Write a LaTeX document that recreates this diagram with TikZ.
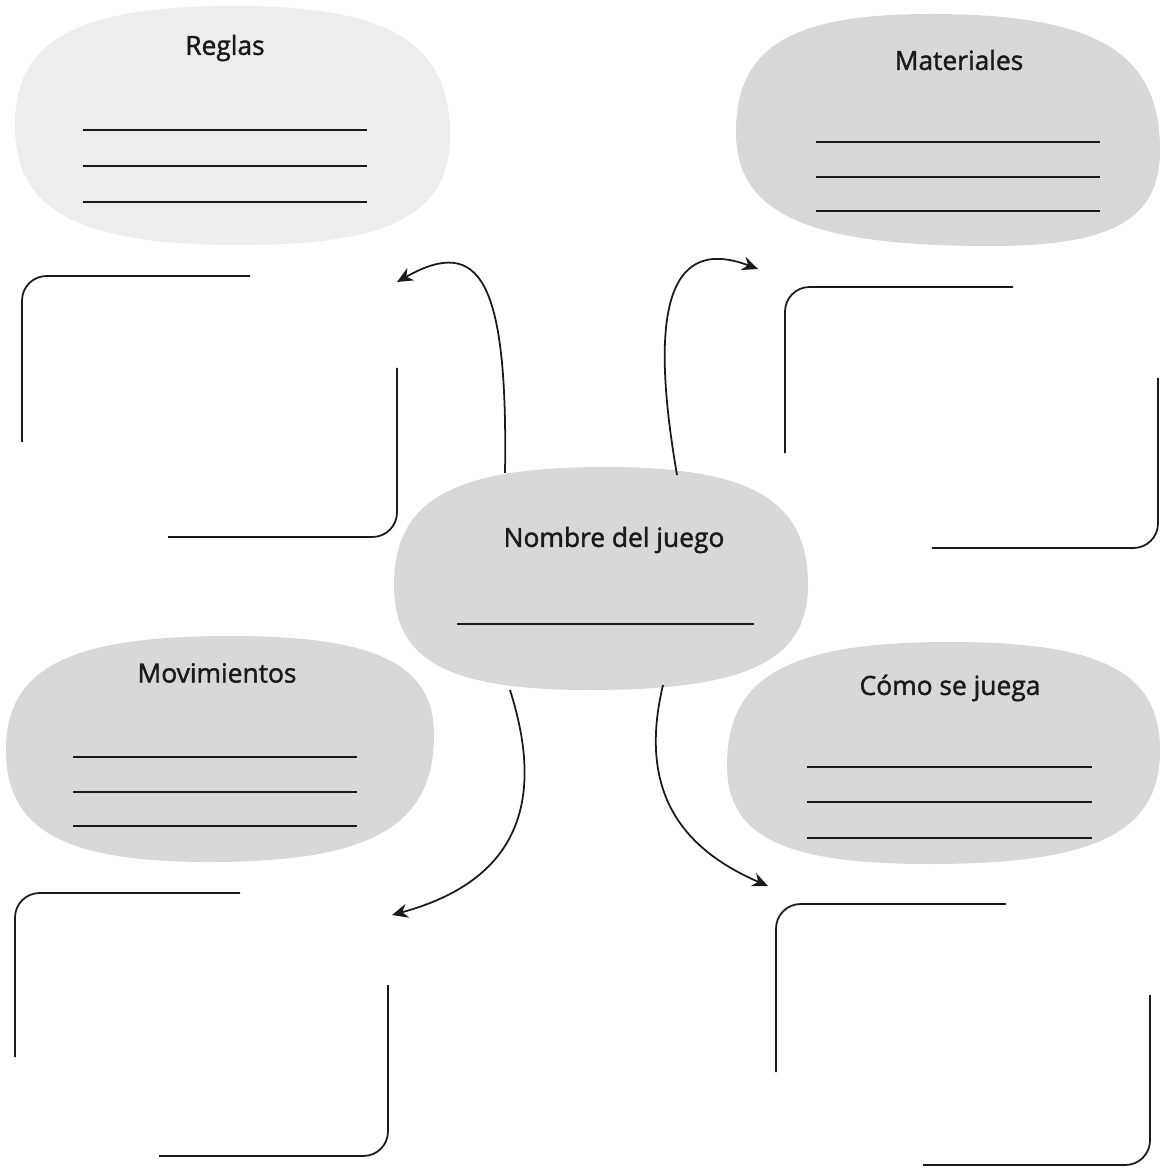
\documentclass[tikz,border=0pt]{standalone}
\usepackage{fontspec}
\setmainfont{Open Sans}
\newfontfamily\titlefont{Open Sans}[FakeBold=1.5]
\usepackage{tikz}
\usetikzlibrary{arrows.meta, positioning}
\usepackage{xcolor}
\definecolor{BlobLight}{HTML}{EDEDED}
\definecolor{BlobGray}{HTML}{D8D8D8}
\definecolor{InkBlack}{HTML}{1A1A1A}
\tikzset{
    % Blob and text styles
    blobgris/.style={
        fill=BlobGray,
        draw=none
    },
    bloblight/.style={
        fill=BlobLight,
        draw=none
    },
    titulo/.style={
        font=\titlefont\fontsize{15}{18}\selectfont,
        text=InkBlack,
        inner sep=0pt
    },
    % Line styles
    renglon/.style={
        draw=InkBlack,
        line width=1.1pt
    },
    caja/.style={
        draw=InkBlack,
        line width=1pt,
        rounded corners=14pt
    },
    flecha/.style={
        -{Stealth[length=9pt,width=8pt]},
        draw=InkBlack,
        line width=1pt
    }
}

\begin{document}
\begin{tikzpicture}[x=0.02cm, y=-0.02cm]
                \useasboundingbox (0,0) rectangle (1162,1168);
                \fill[white] (0,0) rectangle (1162,1168);

                % Blobs
                \fill[bloblight] (450,135) .. controls +(0,-92) and +(155,0) .. (235,6)
                    .. controls +(-158,0) and +(0,-85) .. (15,125)
                    .. controls +(0,86) and +(-162,0) .. (240,245)
                    .. controls +(151,0) and +(0,79) .. cycle;
                \fill[blobgris] (1160,150) .. controls +(0,-98) and +(166,0) .. (930,14)
                    .. controls +(-139,0) and +(0,-85) .. (736,132)
                    .. controls +(0,82) and +(-182,0) .. (990,246)
                    .. controls +(122,0) and +(0,70) .. cycle;
                \fill[blobgris] (808,585) .. controls +(0,-85) and +(146,0) .. (605,467)
                    .. controls +(-152,0) and +(0,-85) .. (394,585)
                    .. controls +(0,76) and +(-142,0) .. (590,690)
                    .. controls +(157,0) and +(0,76) .. cycle;
                \fill[blobgris] (434,735) .. controls +(0,-71) and +(146,0) .. (230,636)
                    .. controls +(-161,0) and +(0,-82) .. (6,750)
                    .. controls +(0,80) and +(-146,0) .. (210,862)
                    .. controls +(161,0) and +(0,91) .. cycle;
                \fill[blobgris] (1160,750) .. controls +(0,-78) and +(151,0) .. (950,642)
                    .. controls +(-161,0) and +(0,-89) .. (727,765)
                    .. controls +(0,72) and +(-146,0) .. (930,864)
                    .. controls +(166,0) and +(0,82) .. cycle;

                % Titles
                \node[titulo] (reglas) at (225,48) {Reglas};
                \node[titulo] (materiales) at (959,60) {Materiales};
                \node[titulo] (nombre) at (614,540) {Nombre del juego};
                \node[titulo] (movimientos) at (217,673) {Movimientos};
                \node[titulo] (como) at (950,688) {Cómo se juega};

                % Writing lines
                \foreach \y in {130,166,202} \draw[renglon] (83,\y) -- (367,\y);
                \foreach \y in {142,177,211} \draw[renglon] (816,\y) -- (1100,\y);
                \foreach \y in {757,792,826} \draw[renglon] (73,\y) -- (357,\y);
                \foreach \y in {767,802,838} \draw[renglon] (807,\y) -- (1092,\y);
                \draw[renglon] (457,624) -- (754,624);

                % Open boxes
                \draw[caja] (250,276) -| (22,442);
                \draw[caja] (397,368) |- (168,537);
                \draw[caja] (1013,287) -| (785,453);
                \draw[caja] (1158,378) |- (932,548);
                \draw[caja] (240,893) -| (15,1057);
                \draw[caja] (388,985) |- (159,1156);
                \draw[caja] (1006,904) -| (776,1072);
                \draw[caja] (1150,995) |- (923,1165);

                % Arrow ends
                \coordinate (nul) at (505,473);
                \coordinate (nur) at (677,475);
                \coordinate (ndl) at (510,690);
                \coordinate (ndr) at (663,685);
                \coordinate (treglas) at (397,282);
                \coordinate (tmateriales) at (758,269);
                \coordinate (tmovimientos) at (392,915);
                \coordinate (tcomo) at (768,886);

                % Arrows
                \draw[flecha] (nul) .. controls (508,280) and (480,235) .. (treglas);
                \draw[flecha] (nur) .. controls (652,330) and (660,232) .. (tmateriales);
                \draw[flecha] (ndl) .. controls (545,800) and (520,880) .. (tmovimientos);
                \draw[flecha] (ndr) .. controls (638,790) and (680,848) .. (tcomo);
            \end{tikzpicture}
\end{document}
